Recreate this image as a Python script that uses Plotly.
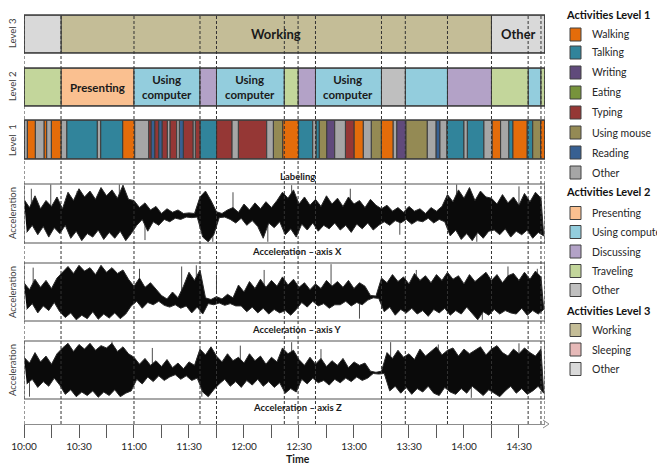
import plotly.graph_objects as go

# ---------------- data ----------------
T_END = 284.2  # minutes after 10:00 shown on the axis

tick_minutes = [0, 30, 60, 90, 120, 150, 180, 210, 240, 270]
tick_labels = ["10:00", "10:30", "11:00", "11:30", "12:00", "12:30", "13:00", "13:30", "14:00", "14:30"]

lvl1_starts = [0, 1.8, 6.2, 10.9, 12.4, 14.9, 20.3, 23.3, 40.0, 41.8,
               53.8, 60.4, 68.0, 69.4, 71.3, 73.5, 75.3, 78.2, 79.6, 83.3,
               84.7, 86.9, 92.3, 93.4, 96.0, 105.1, 113.5, 116.9, 132.4, 136.0,
               141.1, 149.8, 157.5, 159.3, 161.1, 165.1, 169.5, 175.3, 180.0, 185.1,
               189.4, 194.9, 201.4, 203.3, 208.4, 220.0, 224.7, 226.9, 230.6, 240.0,
               241.8, 250.9, 255.3, 260.0, 264.4, 266.6, 274.5, 277.5, 281.8]
lvl1_acts = ["Other", "Walking", "Other", "Walking", "Other", "Walking", "Other", "Talking", "Other", "Talking",
             "Walking", "Other", "Typing", "Reading", "Typing", "Reading", "Typing", "Other", "Typing", "Other",
             "Reading", "Typing", "Other", "Typing", "Talking", "Typing", "Other", "Typing", "Other", "Using mouse",
             "Walking", "Talking", "Other", "Talking", "Using mouse", "Writing", "Other", "Typing", "Walking", "Other",
             "Using mouse", "Walking", "Other", "Writing", "Using mouse", "Other", "Reading", "Other", "Talking", "Other",
             "Talking", "Other", "Walking", "Other", "Talking", "Walking", "Talking", "Using mouse", "Walking"]

lvl2_starts = [0, 20.2, 60, 96, 105, 142, 149.5, 159, 195, 208, 231, 255, 275, 282]
lvl2_acts = ["Traveling", "Presenting", "Using computer", "Discussing", "Using computer", "Traveling",
             "Discussing", "Using computer", "Other", "Using computer", "Discussing", "Traveling",
             "Using computer", "Traveling"]
lvl2_text = ["", "Presenting", "Using<br>computer", "", "Using<br>computer", "", "", "Using<br>computer",
             "", "", "", "", "", ""]

lvl3_starts = [0, 20.2, 255]
lvl3_acts = ["Other", "Working", "Other"]
lvl3_text = ["", "Working", "Other"]

lvl1_names = ["Walking", "Talking", "Writing", "Eating", "Typing", "Using mouse", "Reading", "Other"]
lvl1_colors = ["#e46c0a", "#31849b", "#604a7b", "#77933c", "#953735", "#948a54", "#376092", "#a6a6a6"]
lvl2_names = ["Presenting", "Using computer", "Discussing", "Traveling", "Other"]
lvl2_colors = ["#fac090", "#93cddd", "#b3a2c7", "#c3d69b", "#bfbfbf"]
lvl3_names = ["Working", "Sleeping", "Other"]
lvl3_colors = ["#c4bd97", "#e6b9b8", "#d9d9d9"]

# acceleration: upper / lower extent of the signal in each 3-minute window (0 = box bottom, 100 = box top)
STEP = 3
acc_x_hi = [74, 60, 80, 58, 72, 62, 78, 58,
            86, 72, 92, 78, 88, 74, 94, 80, 90, 76, 98, 74,
            72, 60, 68, 56, 62, 50, 58, 52, 56, 50, 51, 50,
            78, 88, 72,
            53, 50, 56, 60, 52, 66, 56, 68, 58, 70, 60, 72,
            86, 76, 90,
            66, 78, 64, 74, 62, 80, 66, 76, 62, 78, 66, 72, 60, 74, 64,
            58, 64, 54, 60, 52, 62, 54, 58, 50, 60, 54, 62,
            82, 70, 90, 76, 94, 72, 88, 78,
            76, 66, 82, 68, 78, 64, 84, 70, 86, 76]
acc_x_lo = [18, 30, 14, 28, 10, 26, 16, 30,
            8, 20, 4, 16, 10, 22, 6, 18, 8, 20, 4, 16,
            30, 40, 20, 36, 30, 40, 36, 42, 40, 44, 43, 44,
            10, 2, 14,
            43, 44, 40, 34, 42, 30, 38, 28, 8, 34, 26, 36,
            14, 24, 10,
            32, 22, 34, 20, 30, 24, 34, 22, 30, 18, 32, 24, 34, 22, 30,
            36, 30, 38, 34, 40, 32, 38, 36, 42, 34, 40, 36,
            12, 22, 6, 16, 4, 18, 8, 20,
            22, 14, 24, 10, 20, 14, 22, 8, 18, 12]
acc_y_hi = [66, 54, 72, 58, 70, 56, 74,
            84, 94, 82, 96, 86, 92, 80, 96, 84, 92, 82, 88,
            72, 60, 74, 58, 66, 54,
            44, 38, 50, 40, 60,
            84, 70, 88,
            40, 37, 42, 38, 46, 40,
            62, 50, 68, 56, 72, 58, 70, 60, 76, 62, 72,
            58, 66, 54, 64, 56, 70, 60,
            68, 58, 70, 56, 66, 60,
            44, 43,
            74, 66, 80, 68, 76, 64, 82, 70, 78, 66, 80, 70, 84, 72, 78, 64, 80, 68, 76, 84, 70, 80, 66, 78,
            82, 70, 84, 72, 86, 76]
acc_y_lo = [20, 30, 14, 26, 18, 32, 16,
            6, 14, 2, 10, 4, 16, 3, 12, 5, 14, 4, 12,
            26, 34, 22, 32, 28, 34,
            27, 24, 28, 22, 26,
            14, 24, 12,
            30, 28, 31, 27, 30, 26,
            26, 16, 24, 14, 22, 12, 20, 14, 18, 10, 20,
            32, 24, 34, 26, 30, 22, 28,
            28, 34, 26, 32, 28, 36,
            40, 39,
            16, 24, 10, 20, 14, 22, 12, 18, 8, 20, 14, 22, 10, 18, 12, 24, 14, 2, 16, 10, 20, 12, 18, 14,
            12, 22, 10, 18, 12, 20]
acc_z_hi = [72, 62, 80, 64, 74, 60, 78,
            88, 96, 82, 94, 86, 96, 84, 92, 88, 96, 82, 90, 78,
            72, 60, 70, 58, 66, 56, 68, 54, 62, 52, 64, 58,
            86, 76, 90,
            74, 64, 78, 66, 72, 62, 78, 66, 74, 60, 72, 64,
            88, 78, 84,
            68, 58, 72, 60, 70, 56, 66, 58, 70, 54, 64, 58, 62,
            48, 46, 48,
            80, 70, 84, 72, 78, 68, 86, 74, 82, 90, 76, 84, 88, 74, 86, 78, 84, 90, 76, 86,
            92, 80, 74, 86, 78, 88, 80, 74, 86]
acc_z_lo = [26, 34, 20, 30, 22, 36, 24,
            8, 16, 4, 12, 6, 14, 3, 12, 6, 16, 4, 10, 14,
            34, 26, 38, 30, 40, 32, 38, 42, 34, 40, 32, 36,
            12, 4, 16,
            26, 34, 22, 30, 20, 32, 24, 34, 22, 30, 20, 28,
            10, 18, 12,
            34, 26, 36, 28, 32, 24, 34, 28, 36, 30, 38, 32, 36,
            44, 43, 44,
            14, 22, 10, 20, 8, 18, 12, 22, 10, 6, 20, 12, 8, 18, 10, 22, 14, 6, 16, 10,
            4, 14, 22, 10, 18, 8, 14, 22, 10]

# isolated spikes sticking out of the dense signal: time (min) and extreme value
acc_x_spike_t = [4, 14.6, 29, 52, 66, 103, 114, 133, 146, 178, 205, 236, 247, 270]
acc_x_spike_v = [92, 100, 88, 100, 5, 2, 86, 2, 98, 92, 14, 100, 2, 96]
acc_y_spike_t = [5, 21.5, 63, 86, 94, 105, 131, 167.5, 183, 214, 250, 264, 280]
acc_y_spike_v = [92, 84, 90, 94, 96, 80, 88, 98, 4, 88, 2, 94, 90]
acc_z_spike_t = [3, 48, 70, 97, 118, 146, 162, 200, 226, 244, 270]
acc_z_spike_v = [4, 100, 88, 4, 92, 98, 86, 98, 94, 2, 96]

# ---------------- layout helpers (pixels) ----------------
W, H = 657, 464
PL, PR, PT, PB = 24, 545, 15, 424


def fx(xpx):
    return (xpx - PL) / (PR - PL)


def fy(ypx):
    return (PB - ypx) / (PB - PT)


FONT = "Lato, Open Sans, sans-serif"

rows = {  # axis name: (top px, bottom px)
    "yaxis": (15, 53),
    "yaxis2": (68, 106),
    "yaxis3": (120, 159),
    "yaxis4": (184, 243),
    "yaxis5": (263, 321),
    "yaxis6": (341, 399),
}

fig = go.Figure()


def ends(starts):
    return starts[1:] + [T_END]


def add_level(starts, acts, names, colors, yref):
    e = ends(starts)
    for name, col in zip(names, colors):
        idx = [i for i, a in enumerate(acts) if a == name]
        if not idx:
            continue
        fig.add_trace(go.Bar(
            orientation="h", y=[0] * len(idx),
            base=[starts[i] for i in idx],
            x=[e[i] - starts[i] for i in idx],
            width=1, yaxis=yref, xaxis="x",
            marker=dict(color=col, line=dict(color="#3a3a3a", width=1)),
            showlegend=False, hoverinfo="skip", name=name))


add_level(lvl3_starts, lvl3_acts, lvl3_names, lvl3_colors, "y")
add_level(lvl2_starts, lvl2_acts, lvl2_names, lvl2_colors, "y2")
add_level(lvl1_starts, lvl1_acts, lvl1_names, lvl1_colors, "y3")


def add_signal(hi, lo, sp_t, sp_v, yref):
    sx, sy = [], []
    for t, v in zip(sp_t, sp_v):
        sx += [t, t, None]
        sy += [50, v, None]
    fig.add_trace(go.Scatter(x=sx, y=sy, mode="lines", yaxis=yref, xaxis="x",
                             line=dict(color="#4d4d4d", width=1),
                             showlegend=False, hoverinfo="skip"))
    t_hi = [i * STEP for i in range(len(hi))]
    t_lo = [i * STEP + STEP / 2 for i in range(len(lo))]
    fig.add_trace(go.Scatter(x=t_hi + t_lo[::-1], y=hi + lo[::-1], mode="lines", fill="toself",
                             fillcolor="#0a0a0a", yaxis=yref, xaxis="x",
                             line=dict(color="#2a2a2a", width=1),
                             showlegend=False, hoverinfo="skip"))


add_signal(acc_x_hi, acc_x_lo, acc_x_spike_t, acc_x_spike_v, "y4")
add_signal(acc_y_hi, acc_y_lo, acc_y_spike_t, acc_y_spike_v, "y5")
add_signal(acc_z_hi, acc_z_lo, acc_z_spike_t, acc_z_spike_v, "y6")

layout = dict(
    width=W, height=H,
    margin=dict(l=PL, r=W - PR, t=PT, b=H - PB, pad=0),
    paper_bgcolor="white", plot_bgcolor="white",
    barmode="overlay", showlegend=False,
    font=dict(family=FONT, color="#262626"),
    xaxis=dict(domain=[0, 1], range=[0, T_END], anchor="free", position=0,
               showline=True, linecolor="#8c8c8c", linewidth=1,
               tickvals=tick_minutes, ticktext=tick_labels,
               ticks="outside", ticklen=13, tickwidth=1.2, tickcolor="#595959",
               minor=dict(dtick=15, tick0=0, ticks="outside", ticklen=13, tickwidth=1.2, tickcolor="#595959"),
               tickfont=dict(size=10, color="#262626", family=FONT),
               showgrid=False, zeroline=False, fixedrange=True),
)
for name, (top, bot) in rows.items():
    is_sig = name in ("yaxis4", "yaxis5", "yaxis6")
    layout[name] = dict(domain=[fy(bot), fy(top)], anchor="x",
                        range=[0, 100] if is_sig else [-0.5, 0.5],
                        showticklabels=False, ticks="", showgrid=False, zeroline=False,
                        showline=False, fixedrange=True)
fig.update_layout(**layout)

shapes = []
# row frames
for name, (top, bot) in rows.items():
    is_sig = name in ("yaxis4", "yaxis5", "yaxis6")
    ref = "y" + name[5:] if name != "yaxis" else "y"
    shapes.append(dict(type="rect", xref="x", x0=0, x1=T_END, yref=ref + " domain", y0=0, y1=1,
                       line=dict(color="#8c8c8c" if is_sig else "#3f3f3f", width=1.5),
                       fillcolor="rgba(0,0,0,0)", layer="above"))
# dashed boundaries of level 2 activities
for t in [0] + lvl2_starts[1:] + [T_END]:
    shapes.append(dict(type="line", xref="x", x0=t, x1=t, yref="paper", y0=0, y1=1,
                       line=dict(color="#333333", width=1, dash="3px,2px"), layer="above"))
# axis arrow head
shapes.append(dict(type="path", xref="paper", yref="paper",
                   path=f"M {fx(543)},{fy(420)} L {fx(549)},{fy(424)} L {fx(543)},{fy(428)}",
                   line=dict(color="#8c8c8c", width=1)))

ann = []


def note(x, y, text, size, color="#1a1a1a", xanchor="center", xref="paper", yref="paper", angle=0):
    ann.append(dict(x=x, y=y, xref=xref, yref=yref, text=text, textangle=angle,
                    xanchor=xanchor, yanchor="middle", showarrow=False,
                    font=dict(size=size, color=color, family=FONT)))


# segment texts
for starts, texts, yref, size in [(lvl2_starts, lvl2_text, "y2", 11.5), (lvl3_starts, lvl3_text, "y", 13)]:
    e = ends(starts)
    for s, en, tx in zip(starts, e, texts):
        if tx:
            note((s + en) / 2, 0, f"<b>{tx}</b>", size, xref="x", yref=yref)
# row titles
for txt, yc in [("Level 3", 34), ("Level 2", 87), ("Level  1", 140),
                ("Acceleration", 213), ("Acceleration", 292), ("Acceleration", 370)]:
    note(fx(12), fy(yc), txt, 9.5, color="#404040", angle=-90)
# captions
for txt, yc in [("Labeling", 176), ("Acceleration – axis X", 251),
                ("Acceleration – axis Y", 329), ("Acceleration – axis Z", 407)]:
    note(fx(297), fy(yc), f"<b>{txt}</b>", 9.5)
note(fx(298), fy(458.5), "<b>Time</b>", 10.5)

# legend (drawn by hand)
legend_groups = [
    ("Activities Level 1", 14.5, lvl1_names, lvl1_colors, [34.5, 52.5, 72.5, 92.5, 112.5, 132.5, 152.5, 172.5]),
    ("Activities Level 2", 191, lvl2_names, lvl2_colors, [213, 232, 251.5, 271, 290]),
    ("Activities Level 3", 310, lvl3_names, lvl3_colors, [330, 349.5, 369]),
]
for title, ty, names, cols, ys in legend_groups:
    note(fx(564), fy(ty), f"<b>{title}</b>", 11, color="#111111", xanchor="left")
    for nm, c, yc in zip(names, cols, ys):
        shapes.append(dict(type="rect", xref="paper", yref="paper",
                           x0=fx(570), x1=fx(581), y0=fy(yc + 6.5), y1=fy(yc - 6.5),
                           fillcolor=c, line=dict(color="#404040", width=1)))
        note(fx(590), fy(yc), nm, 10.5, color="#262626", xanchor="left")

fig.update_layout(shapes=shapes, annotations=ann)
fig.write_html("out.html", config={"displayModeBar": False},
               post_script="document.body.style.margin='0';")
